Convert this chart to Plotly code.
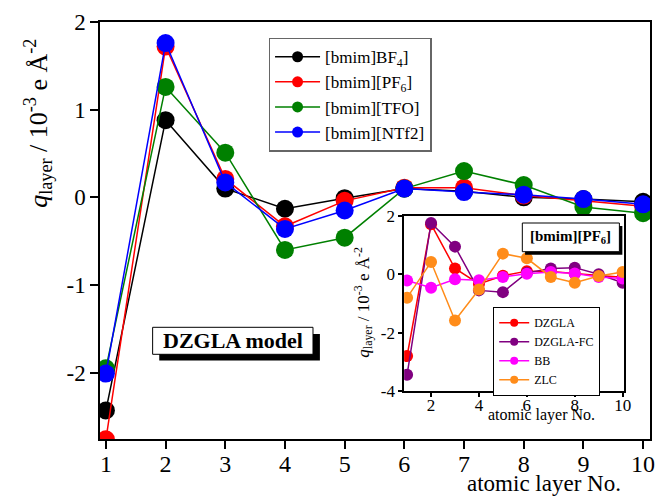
import plotly.graph_objects as go

# ---------------- data ----------------
layers = [1, 2, 3, 4, 5, 6, 7, 8, 9, 10]

bf4 = [-2.43, 0.88, 0.10, -0.13, -0.01, 0.10, 0.07, 0.00, -0.02, -0.05]
pf6 = [-2.76, 1.72, 0.21, -0.33, -0.04, 0.11, 0.11, 0.02, -0.04, -0.10]
tfo = [-1.95, 1.26, 0.51, -0.60, -0.46, 0.10, 0.30, 0.14, -0.11, -0.18]
ntf2 = [-2.01, 1.76, 0.17, -0.36, -0.15, 0.10, 0.06, 0.03, -0.02, -0.08]

dzgla = [-2.80, 1.72, 0.20, -0.33, -0.05, 0.11, 0.10, 0.02, -0.04, -0.10]
dzgla_fc = [-3.44, 1.76, 0.95, -0.55, -0.61, 0.05, 0.20, 0.23, 0.00, -0.29]
bb = [-0.21, -0.46, -0.17, -0.20, -0.09, 0.02, 0.08, 0.03, -0.09, -0.14]
zlc = [-0.80, 0.42, -1.58, -0.52, 0.71, 0.55, -0.09, -0.29, -0.06, 0.08]

main_names = ["[bmim]BF<sub>4</sub>]", "[bmim][PF<sub>6</sub>]", "[bmim][TFO]", "[bmim][NTf2]"]
inset_names = ["DZGLA", "DZGLA-FC", "BB", "ZLC"]

main_xticks = [1, 2, 3, 4, 5, 6, 7, 8, 9, 10]
main_yticks = [-2, -1, 0, 1, 2]
main_yticklabels = ["-2", "-1", "0", "1", "2"]
inset_xticks = [2, 4, 6, 8, 10]
inset_yticks = [-4, -2, 0, 2]
inset_yticklabels = ["-4", "-2", "0", "2"]

# ---------------- layout helpers ----------------
W, H = 667, 496
ML, MR, MT, MB = 100, 10, 22, 57
PW, PH = W - ML - MR, H - MT - MB


def px(x):
    return (x - ML) / PW


def py(y):
    return (H - MB - y) / PH


FONT = "Liberation Serif"

main_colors = ["black", "#ff0000", "#008000", "#0000ff"]
inset_colors = ["#ff0000", "#800080", "#ff00ff", "#ff8c1a"]

fig = go.Figure()

for name, vals, col in zip(main_names, [bf4, pf6, tfo, ntf2], main_colors):
    fig.add_trace(go.Scatter(
        x=layers, y=vals, name=name, mode="lines+markers",
        line=dict(color=col, width=1.5),
        marker=dict(color=col, size=18),
        xaxis="x", yaxis="y", showlegend=False,
    ))

for name, vals, col in zip(inset_names, [dzgla, dzgla_fc, bb, zlc], inset_colors):
    fig.add_trace(go.Scatter(
        x=layers, y=vals, name=name, mode="lines+markers",
        line=dict(color=col, width=1.5),
        marker=dict(color=col, size=12),
        xaxis="x2", yaxis="y2", showlegend=False,
    ))

# legend entries (thin lines, small markers as in the reference legends)
for name, col in zip(main_names, main_colors):
    fig.add_trace(go.Scatter(
        x=[None], y=[None], name=name, mode="lines+markers",
        line=dict(color=col, width=1.5), marker=dict(color=col, size=11),
        xaxis="x", yaxis="y", legend="legend", showlegend=True, hoverinfo="skip",
    ))
for name, col in zip(inset_names, inset_colors):
    fig.add_trace(go.Scatter(
        x=[None], y=[None], name=name, mode="lines+markers",
        line=dict(color=col, width=1.5), marker=dict(color=col, size=8),
        xaxis="x2", yaxis="y2", legend="legend2", showlegend=True, hoverinfo="skip",
    ))

axis_common = dict(
    showline=True, mirror=True, linecolor="black", linewidth=1.5,
    ticks="outside", tickcolor="black", tickwidth=1.5,
    showgrid=False, zeroline=False,
)

shapes = []
# DZGLA model box + shadow
shapes.append(dict(type="rect", xref="paper", yref="paper",
                   x0=px(160), x1=px(322.7), y0=py(360.5), y1=py(334),
                   fillcolor="black", line=dict(width=0), layer="above"))
shapes.append(dict(type="rect", xref="paper", yref="paper",
                   x0=px(153.3), x1=px(315.7), y0=py(354.3), y1=py(327.3),
                   fillcolor="white", line=dict(color="black", width=1), layer="above"))
# [bmim][PF6] box + shadow
shapes.append(dict(type="rect", xref="paper", yref="paper",
                   x0=px(530.5), x1=px(629), y0=py(254.7), y1=py(226),
                   fillcolor="black", line=dict(width=0), layer="above"))
shapes.append(dict(type="rect", xref="paper", yref="paper",
                   x0=px(527.7), x1=px(626), y0=py(251.7), y1=py(223),
                   fillcolor="white", line=dict(color="black", width=1), layer="above"))

annotations = [
    dict(text="<i>q</i><sub>layer</sub> / 10<sup>-3</sup> e Å<sup>-2</sup>",
         x=px(37), y=py(123), xref="paper", yref="paper", textangle=-90,
         showarrow=False, xanchor="center", yanchor="middle",
         font=dict(family=FONT, size=26, color="black")),
    dict(text="<i>q</i><sub>layer</sub> / 10<sup>-3</sup> e Å<sup>-2</sup>",
         x=px(366), y=py(302), xref="paper", yref="paper", textangle=-90,
         showarrow=False, xanchor="center", yanchor="middle",
         font=dict(family=FONT, size=17, color="black")),
    dict(text="atomic layer No.", x=px(550), y=py(483), xref="paper", yref="paper",
         showarrow=False, xanchor="center", yanchor="middle",
         font=dict(family=FONT, size=23, color="black")),
    dict(text="atomic layer No.", x=px(547), y=py(415), xref="paper", yref="paper",
         showarrow=False, xanchor="center", yanchor="middle",
         font=dict(family=FONT, size=16, color="black")),
    dict(text="<b>DZGLA model</b>", x=px(234.5), y=py(340.8), xref="paper", yref="paper",
         showarrow=False, xanchor="center", yanchor="middle",
         font=dict(family=FONT, size=22, color="black")),
    dict(text="<b>[bmim][PF<sub>6</sub>]</b>", x=px(576.9), y=py(237.4), xref="paper", yref="paper",
         showarrow=False, xanchor="center", yanchor="middle",
         font=dict(family=FONT, size=15, color="black")),
]

fig.update_layout(
    width=W, height=H,
    margin=dict(l=ML, r=MR, t=MT, b=MB, pad=0),
    paper_bgcolor="white", plot_bgcolor="white",
    font=dict(family=FONT, color="black"),
    xaxis=dict(domain=[0, 1], range=[0.901, 10.116], tickvals=main_xticks,
               ticklen=8, ticklabelstandoff=-6,
               tickfont=dict(size=24, family=FONT), anchor="y", **axis_common),
    yaxis=dict(domain=[0, 1], range=[-2.756, 2], tickvals=main_yticks, ticktext=main_yticklabels,
               ticklen=8, tickfont=dict(size=23, family=FONT), anchor="x", **axis_common),
    xaxis2=dict(domain=[px(408), px(631)], range=[0.876, 10.07], tickvals=inset_xticks,
                ticklen=4, ticklabelstandoff=-6,
                tickfont=dict(size=17, family=FONT), anchor="y2", **axis_common),
    yaxis2=dict(domain=[py(391), py(216)], range=[-4, 2], tickvals=inset_yticks,
                ticktext=inset_yticklabels, ticklen=4, tickfont=dict(size=17, family=FONT),
                anchor="x2", **axis_common),
    legend=dict(x=px(270.7), y=py(37.7), xanchor="left", yanchor="top",
                bgcolor="white", bordercolor="#666666", borderwidth=1.5,
                font=dict(family=FONT, size=17, color="black"), itemwidth=45,
                itemsizing="trace"),
    legend2=dict(x=px(498), y=py(307), xanchor="left", yanchor="top",
                 bgcolor="white", bordercolor="black", borderwidth=1.2,
                 font=dict(family=FONT, size=12, color="black"), itemwidth=30,
                 itemsizing="trace"),
    shapes=shapes,
    annotations=annotations,
    showlegend=True,
)

fig.write_html("out.html")
